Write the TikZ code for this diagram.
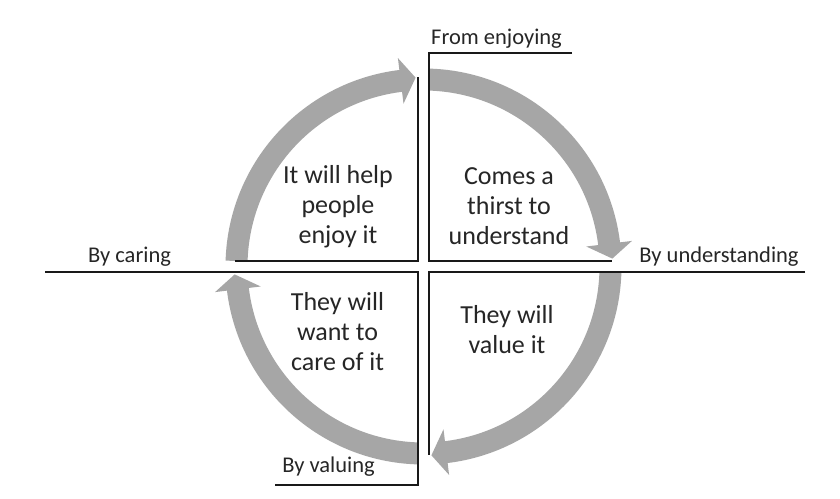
\documentclass[tikz,border=0pt]{standalone}
\usepackage{fontspec}
\setmainfont{Carlito}
\usetikzlibrary{calc}
\definecolor{arrowgray}{RGB}{166,166,166}
\definecolor{linedark}{RGB}{25,25,25}
\tikzset{
  frameline/.style={draw=linedark, line width=1.8pt, line join=miter},
  quadtext/.style={align=center, inner sep=0pt, font=\fontsize{26}{30}\selectfont, text=black!85},
  labeltext/.style={inner sep=0pt, font=\fontsize{22.5}{26}\selectfont, text=black!85},
  bandarrow/.style={fill=arrowgray, draw=none}
}
\begin{document}
\begin{tikzpicture}[x=1pt,y=1pt]
\useasboundingbox (0,0) rectangle (840,498);
\fill[white] (0,0) rectangle (840,498);
\coordinate (C) at (423.5,231.5);
% circular arrows
\foreach \a in {180,90,0,-90}{
  \pgfmathsetmacro{\s}{\a-1.7}
  \pgfmathsetmacro{\b}{\a-83}
  \pgfmathsetmacro{\t}{\a-87.6}
  \begin{scope}[shift={(C)}]
    \fill[bandarrow] (\s:198) arc[start angle=\s, end angle=\b, radius=198]
      -- (\b:210) -- (\t:189) -- (\b:164) -- (\b:176)
      arc[start angle=\b, end angle=\s, radius=176] -- cycle;
  \end{scope}
}
% quadrant frames
\coordinate (tl1) at (235,237);
\coordinate (tl2) at (418,237);
\coordinate (tl3) at (418,421);
\draw[frameline] (tl1) -- (tl2) -- (tl3);
\coordinate (tr1) at (572,445);
\coordinate (tr2) at (429,445);
\coordinate (tr3) at (429,237);
\coordinate (tr4) at (612,237);
\draw[frameline] (tr1) -- (tr2) -- (tr3) -- (tr4);
\coordinate (br1) at (805,226);
\coordinate (br2) at (429,226);
\coordinate (br3) at (429,43);
\draw[frameline] (br1) -- (br2) -- (br3);
\coordinate (bl1) at (45,226);
\coordinate (bl2) at (418,226);
\coordinate (bl3) at (418,13);
\coordinate (bl4) at (275,13);
\draw[frameline] (bl1) -- (bl2) -- (bl3) -- (bl4);
% labels
\node[labeltext, anchor=base west] (enjoying) at (431,453) {From enjoying};
\node[labeltext, anchor=base] (caring) at (129.5,235) {By caring};
\node[labeltext, anchor=base] (understanding) at (719,235) {By understanding};
\node[labeltext, anchor=base] (valuing) at (328.5,26) {By valuing};
% quadrant texts
\node[quadtext] (qtl) at (338,291.5) {It will help\\people\\enjoy it};
\node[quadtext] (qtr) at (509,291.5) {Comes a\\thirst to\\understand};
\node[quadtext] (qbl) at (337.5,166) {They will\\want to\\care of it};
\node[quadtext] (qbr) at (507,168) {They will\\value it};
\end{tikzpicture}
\end{document}
